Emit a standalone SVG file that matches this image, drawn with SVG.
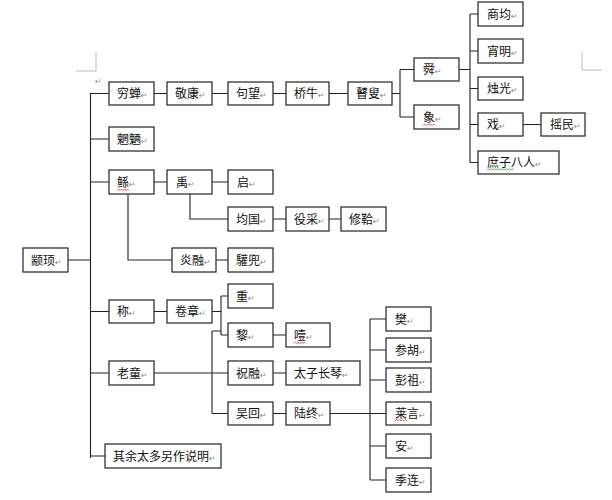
<svg xmlns="http://www.w3.org/2000/svg" width="612" height="500" viewBox="0 0 612 500">
<style>
.b{fill:#fff;stroke:#333;stroke-width:1.3}
.t{font-family:"Noto Sans CJK SC","Noto Sans CJK TC",sans-serif;font-size:12px;fill:#111}
.p{font-family:"DejaVu Sans",sans-serif;font-size:8px;fill:#888}
.c{fill:none;stroke:#222;stroke-width:1.1}
.m{fill:none;stroke:#bbb;stroke-width:1}
.wr{fill:none;stroke:#e03030;stroke-width:0.8}
.wg{fill:none;stroke:#3a3;stroke-width:0.8}
</style>
<rect width="612" height="500" fill="#fff"/>
<path class="m" d="M96 52V71H76M582 52V70H602"/>
<text class="p" x="95" y="84">↵</text>
<g id="connectors">
<path class="c" d="M90.5 93V458M90.5 93.5H109M90.5 139H109M90.5 182H109M90.5 311.5H109M90.5 373H109M90.5 456H105M68 260H90.5"/>
<path class="c" d="M154 93.5H167M212 93.5H228M273 93.5H286M329 93.5H348"/>
<path class="c" d="M392 93.5H400M400 69.5V117M400 69.5H414M400 117H414"/>
<path class="c" d="M459 69.5H470M470 14V162.5M470 14H478M470 51H478M470 88.5H478M470 124.5H478M470 162.5H478M523 124.5H541"/>
<path class="c" d="M154 182H167M212 182H228M190 194V219H228M273 219H286M329 219H341M128 194V260H172M216 260H228"/>
<path class="c" d="M154 311.5H167M212 311.5H221M221 296V335M221 296H228M221 335H228M273 335H286"/>
<path class="c" d="M154 373H228M212 331V413.5M212 331H221M212 413.5H228M273 373H286M273 413.5H286"/>
<path class="c" d="M330 413.5H386M370 319V480M370 319H386M370 350H386M370 380H386M370 446H386M370 480H386"/>
</g>
<g id="n-zhuanxu"><rect class="b" x="23" y="248" width="45" height="24"/><text class="t" x="31" y="264.5">颛顼<tspan class="p">↵</tspan></text></g>
<g id="n-qiongchan"><rect class="b" x="109" y="82" width="45" height="23"/><text class="t" x="117" y="98">穷蝉<tspan class="p">↵</tspan></text></g>
<g id="n-jingkang"><rect class="b" x="167" y="82" width="45" height="23"/><text class="t" x="175" y="98">敬康<tspan class="p">↵</tspan></text></g>
<g id="n-juwang"><rect class="b" x="228" y="82" width="45" height="23"/><text class="t" x="236" y="98">句望<tspan class="p">↵</tspan></text></g>
<g id="n-qiaoniu"><rect class="b" x="286" y="82" width="43" height="23"/><text class="t" x="294" y="98">桥牛<tspan class="p">↵</tspan></text></g>
<g id="n-gusou"><rect class="b" x="348" y="82" width="44" height="23"/><text class="t" x="356" y="98">瞽叟<tspan class="p">↵</tspan></text></g>
<g id="n-shun"><rect class="b" x="414" y="58" width="45" height="23"/><text class="t" x="423" y="74">舜<tspan class="p">↵</tspan></text></g>
<g id="n-xiang"><rect class="b" x="414" y="105" width="45" height="24"/><text class="t" x="423" y="121.5">象<tspan class="p">↵</tspan></text><path class="wr" d="M423 125.5l1.5-1.5 1.5 1.5 1.5-1.5 1.5 1.5 1.5-1.5 1.5 1.5 1.5-1.5 1.5 1.5"/></g>
<g id="n-shangjun"><rect class="b" x="478" y="2" width="45" height="24"/><text class="t" x="487" y="18.5">商均<tspan class="p">↵</tspan></text></g>
<g id="n-xiaoming"><rect class="b" x="478" y="39" width="45" height="24"/><text class="t" x="487" y="55.5">宵明<tspan class="p">↵</tspan></text></g>
<g id="n-zhuguang"><rect class="b" x="478" y="77" width="45" height="23"/><text class="t" x="487" y="93">烛光<tspan class="p">↵</tspan></text></g>
<g id="n-xi"><rect class="b" x="478" y="113" width="45" height="23"/><text class="t" x="487" y="129">戏<tspan class="p">↵</tspan></text></g>
<g id="n-yaomin"><rect class="b" x="541" y="113" width="44" height="23"/><text class="t" x="550" y="129">摇民<tspan class="p">↵</tspan></text></g>
<g id="n-shuzi"><rect class="b" x="478" y="151" width="81" height="23"/><text class="t" x="487" y="167">庶子八人<tspan class="p">↵</tspan></text><path class="wg" d="M487 170l1.5-1.2 1.5 1.2 1.5-1.2 1.5 1.2 1.5-1.2 1.5 1.2 1.5-1.2 1.5 1.2 1.5-1.2 1.5 1.2 1.5-1.2 1.5 1.2 1.5-1.2 1.5 1.2 1.5-1.2 1.5 1.2 1.5-1.2 1.5 1.2"/></g>
<g id="n-wangliang"><rect class="b" x="109" y="127" width="45" height="24"/><text class="t" x="117" y="143.5">魍魉<tspan class="p">↵</tspan></text></g>
<g id="n-gun"><rect class="b" x="109" y="170" width="45" height="24"/><text class="t" x="117" y="186.5">鲧<tspan class="p">↵</tspan></text><path class="wr" d="M117 190.5l1.5-1.5 1.5 1.5 1.5-1.5 1.5 1.5 1.5-1.5 1.5 1.5 1.5-1.5 1.5 1.5"/></g>
<g id="n-yu"><rect class="b" x="167" y="170" width="45" height="24"/><text class="t" x="176" y="186.5">禹<tspan class="p">↵</tspan></text></g>
<g id="n-qi"><rect class="b" x="228" y="170" width="45" height="24"/><text class="t" x="237" y="186.5">启<tspan class="p">↵</tspan></text></g>
<g id="n-junguo"><rect class="b" x="228" y="207" width="45" height="24"/><text class="t" x="236" y="223.5">均国<tspan class="p">↵</tspan></text></g>
<g id="n-yicai"><rect class="b" x="286" y="207" width="43" height="24"/><text class="t" x="294" y="223.5">役采<tspan class="p">↵</tspan></text></g>
<g id="n-xiuge"><rect class="b" x="341" y="207" width="45" height="24"/><text class="t" x="349" y="223.5">修鞈<tspan class="p">↵</tspan></text></g>
<g id="n-yanrong"><rect class="b" x="172" y="248" width="44" height="24"/><text class="t" x="180" y="264.5">炎融<tspan class="p">↵</tspan></text></g>
<g id="n-huandou"><rect class="b" x="228" y="248" width="45" height="24"/><text class="t" x="236" y="264.5">驩兜<tspan class="p">↵</tspan></text></g>
<g id="n-cheng"><rect class="b" x="109" y="300" width="45" height="23"/><text class="t" x="117" y="316">称<tspan class="p">↵</tspan></text></g>
<g id="n-juanzhang"><rect class="b" x="167" y="300" width="45" height="23"/><text class="t" x="175" y="316">卷章<tspan class="p">↵</tspan></text></g>
<g id="n-zhong"><rect class="b" x="228" y="284" width="45" height="24"/><text class="t" x="236" y="300.5">重<tspan class="p">↵</tspan></text></g>
<g id="n-li"><rect class="b" x="228" y="323" width="45" height="24"/><text class="t" x="236" y="339.5">黎<tspan class="p">↵</tspan></text></g>
<g id="n-ye"><rect class="b" x="286" y="323" width="44" height="24"/><text class="t" x="294" y="339.5">噎<tspan class="p">↵</tspan></text><path class="wr" d="M294 343.5l1.5-1.5 1.5 1.5 1.5-1.5 1.5 1.5 1.5-1.5 1.5 1.5 1.5-1.5 1.5 1.5"/></g>
<g id="n-laotong"><rect class="b" x="109" y="361" width="45" height="24"/><text class="t" x="117" y="377.5">老童<tspan class="p">↵</tspan></text></g>
<g id="n-zhurong"><rect class="b" x="228" y="361" width="45" height="24"/><text class="t" x="236" y="377.5">祝融<tspan class="p">↵</tspan></text></g>
<g id="n-taizi"><rect class="b" x="286" y="361" width="74" height="24"/><text class="t" x="294" y="377.5">太子长琴<tspan class="p">↵</tspan></text></g>
<g id="n-wuhui"><rect class="b" x="228" y="402" width="45" height="23"/><text class="t" x="236" y="418">吴回<tspan class="p">↵</tspan></text></g>
<g id="n-luzhong"><rect class="b" x="286" y="402" width="44" height="23"/><text class="t" x="294" y="418">陆终<tspan class="p">↵</tspan></text></g>
<g id="n-fan"><rect class="b" x="386" y="307" width="45" height="24"/><text class="t" x="395" y="323.5">樊<tspan class="p">↵</tspan></text></g>
<g id="n-canhu"><rect class="b" x="386" y="338" width="45" height="24"/><text class="t" x="395" y="354.5">参胡<tspan class="p">↵</tspan></text></g>
<g id="n-pengzu"><rect class="b" x="386" y="368" width="45" height="24"/><text class="t" x="395" y="384.5">彭祖<tspan class="p">↵</tspan></text></g>
<g id="n-laiyan"><rect class="b" x="386" y="402" width="45" height="23"/><text class="t" x="395" y="418">莱言<tspan class="p">↵</tspan></text><path class="wr" d="M395 421l1.5-1.5 1.5 1.5 1.5-1.5 1.5 1.5 1.5-1.5 1.5 1.5 1.5-1.5 1.5 1.5"/></g>
<g id="n-an"><rect class="b" x="386" y="434" width="45" height="24"/><text class="t" x="395" y="450.5">安<tspan class="p">↵</tspan></text></g>
<g id="n-jilian"><rect class="b" x="386" y="468" width="45" height="24"/><text class="t" x="395" y="484.5">季连<tspan class="p">↵</tspan></text></g>
<g id="n-qiyu"><rect class="b" x="105" y="444" width="116" height="24"/><text class="t" x="113" y="460.5">其余太多另作说明<tspan class="p">↵</tspan></text></g>
</svg>
